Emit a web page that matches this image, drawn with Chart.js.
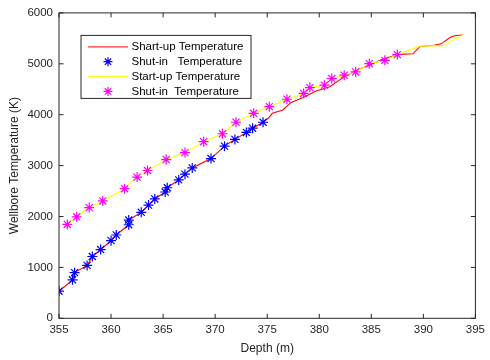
<!DOCTYPE html>
<html>
<head>
<meta charset="utf-8">
<script src="https://cdn.jsdelivr.net/npm/chart.js@4.4.0/dist/chart.umd.min.js"></script>
<style>
  html, body { margin: 0; padding: 0; background: #fff; }
  #wrap { width: 490px; height: 360px; }
</style>
</head>
<body>
<div id="wrap"><canvas id="c" width="490" height="360"></canvas></div>
<script>
// ---- data ----
const shutInDepthA = [355.0, 356.3, 356.5, 357.7, 358.2, 359.0, 360.0, 360.5, 361.7, 361.7, 362.9, 363.6, 364.2, 365.2, 365.4, 366.5, 367.1, 367.8, 369.6, 370.9, 371.9, 373.0, 373.6, 374.6];
const shutInTempA  = [532, 756, 897, 1039, 1214, 1351, 1526, 1637, 1838, 1930, 2082, 2224, 2345, 2481, 2565, 2719, 2832, 2955, 3138, 3382, 3515, 3651, 3735, 3852];
const shartUpTailDepth = [375.1, 375.5, 376.5, 377.3, 378.4, 379.7, 381.0, 382.4, 383.6, 385.0, 386.2, 387.7, 389.0, 389.7, 390.9, 391.7, 392.6, 393.1, 393.8];
const shartUpTailTemp  = [3930, 4027, 4094, 4242, 4333, 4464, 4548, 4743, 4873, 4990, 5099, 5185, 5197, 5341, 5361, 5392, 5522, 5556, 5567];
const shutInDepthB = [355.8, 356.7, 357.9, 359.2, 361.3, 362.5, 363.5, 365.3, 367.1, 368.9, 370.7, 372.0, 373.7, 375.2, 376.9, 378.5, 379.1, 380.5, 381.2, 382.4, 383.5, 384.8, 386.3, 387.5];
const shutInTempB  = [1844, 1994, 2175, 2306, 2546, 2774, 2904, 3119, 3255, 3470, 3626, 3852, 4027, 4158, 4304, 4417, 4532, 4581, 4710, 4776, 4840, 5002, 5068, 5181];
const startUpTailDepth = [389.7, 392.0, 393.0, 393.8];
const startUpTailTemp  = [5347, 5357, 5489, 5567];
const xTicks = [355, 360, 365, 370, 375, 380, 385, 390, 395];
const yTicks = [0, 1000, 2000, 3000, 4000, 5000, 6000];
const legendLabels = ['Shart-up Temperature', 'Shut-in   Temperature', 'Start-up Temperature', 'Shut-in  Temperature'];

const toPts = (xs, ys) => xs.map((x, i) => ({x: x, y: ys[i]}));
const shartUpLine = toPts(shutInDepthA.concat(shartUpTailDepth), shutInTempA.concat(shartUpTailTemp));
const startUpLine = toPts(shutInDepthB.concat(startUpTailDepth), shutInTempB.concat(startUpTailTemp));

const AX = '#262626';
const FONT = '"Liberation Sans", Arial, sans-serif';

function drawStar(ctx, x, y, r, color) {
  ctx.save();
  ctx.strokeStyle = color;
  ctx.lineWidth = 1.2;
  ctx.beginPath();
  for (let k = 0; k < 4; k++) {
    const a = k * Math.PI / 4;
    ctx.moveTo(x - r * Math.cos(a), y - r * Math.sin(a));
    ctx.lineTo(x + r * Math.cos(a), y + r * Math.sin(a));
  }
  ctx.stroke();
  ctx.restore();
}

const framePlugin = {
  id: 'frame',
  afterDatasetsDraw(chart) {
    const {ctx, chartArea: a, scales: {x, y}} = chart;
    ctx.save();
    ctx.strokeStyle = AX;
    ctx.lineWidth = 1;
    ctx.strokeRect(a.left, a.top, a.right - a.left, a.bottom - a.top);
    const tl = 4.5;
    ctx.beginPath();
    xTicks.forEach(v => {
      const px = x.getPixelForValue(v);
      ctx.moveTo(px, a.bottom); ctx.lineTo(px, a.bottom - tl);
      ctx.moveTo(px, a.top); ctx.lineTo(px, a.top + tl);
    });
    yTicks.forEach(v => {
      const py = y.getPixelForValue(v);
      ctx.moveTo(a.left, py); ctx.lineTo(a.left + tl, py);
      ctx.moveTo(a.right, py); ctx.lineTo(a.right - tl, py);
    });
    ctx.stroke();
    ctx.restore();
  },
  afterDraw(chart) {
    const {ctx, chartArea: a} = chart;
    const L = a.left + 22, T = a.top + 22.5, W = 170, H = 63;
    ctx.save();
    ctx.fillStyle = '#fff';
    ctx.fillRect(L, T, W, H);
    ctx.strokeStyle = AX;
    ctx.lineWidth = 1;
    ctx.strokeRect(L, T, W, H);
    const rows = [T + 11.5, T + 26.3, T + 41, T + 56];
    ctx.lineWidth = 1;
    ctx.strokeStyle = '#ff0000';
    ctx.beginPath(); ctx.moveTo(L + 7, rows[0]); ctx.lineTo(L + 47, rows[0]); ctx.stroke();
    drawStar(ctx, L + 27, rows[1], 4.5, '#0000ff');
    ctx.strokeStyle = '#ffff00';
    ctx.beginPath(); ctx.moveTo(L + 7, rows[2]); ctx.lineTo(L + 47, rows[2]); ctx.stroke();
    drawStar(ctx, L + 27, rows[3], 4.5, '#ff00ff');
    ctx.fillStyle = '#000';
    ctx.font = '11.5px ' + FONT;
    ctx.textBaseline = 'middle';
    ctx.textAlign = 'left';
    legendLabels.forEach((t, i) => ctx.fillText(t, L + 50.5, rows[i]));
    ctx.restore();
  }
};

new Chart(document.getElementById('c'), {
  type: 'scatter',
  data: {
    datasets: [
      { label: legendLabels[0], data: shartUpLine, showLine: true, borderColor: '#ff0000', borderWidth: 1.1, pointRadius: 0, fill: false, order: 4 },
      { label: legendLabels[1], data: toPts(shutInDepthA, shutInTempA), showLine: false, pointStyle: 'star', pointRadius: 5, borderColor: '#0000ff', backgroundColor: '#0000ff', pointBorderWidth: 1.2, order: 3 },
      { label: legendLabels[2], data: startUpLine, showLine: true, borderColor: '#ffff00', borderWidth: 1.1, pointRadius: 0, fill: false, order: 2 },
      { label: legendLabels[3], data: toPts(shutInDepthB, shutInTempB), showLine: false, pointStyle: 'star', pointRadius: 5, borderColor: '#ff00ff', backgroundColor: '#ff00ff', pointBorderWidth: 1.2, order: 1 }
    ]
  },
  options: {
    responsive: false,
    animation: false,
    events: [],
    layout: { padding: { top: 10.5, right: 10, left: 0, bottom: 0 } },
    plugins: { legend: { display: false }, tooltip: { enabled: false } },
    scales: {
      x: {
        type: 'linear', min: 355, max: 395,
        afterBuildTicks: s => { s.ticks = xTicks.map(v => ({value: v})); },
        afterFit: s => { s.height = 41.7; },
        grid: { display: false, drawTicks: false },
        border: { display: false },
        ticks: { color: AX, font: { family: FONT, size: 11.5 }, padding: 5, maxRotation: 0, callback: v => String(v) },
        title: { display: true, text: 'Depth (m)', color: AX, font: { family: FONT, size: 12 }, padding: { top: 0, bottom: 4.5 } }
      },
      y: {
        type: 'linear', min: 0, max: 6000,
        afterBuildTicks: s => { s.ticks = yTicks.map(v => ({value: v})); },
        afterFit: s => { s.width = 59; },
        grid: { display: false, drawTicks: false },
        border: { display: false },
        ticks: { color: AX, font: { family: FONT, size: 11.5 }, padding: 6, callback: v => String(v) },
        title: { display: true, text: 'Wellbore Temperature (K)', color: AX, font: { family: FONT, size: 12 }, padding: { top: 7, bottom: 0 } }
      }
    }
  },
  plugins: [framePlugin]
});
</script>
</body>
</html>
